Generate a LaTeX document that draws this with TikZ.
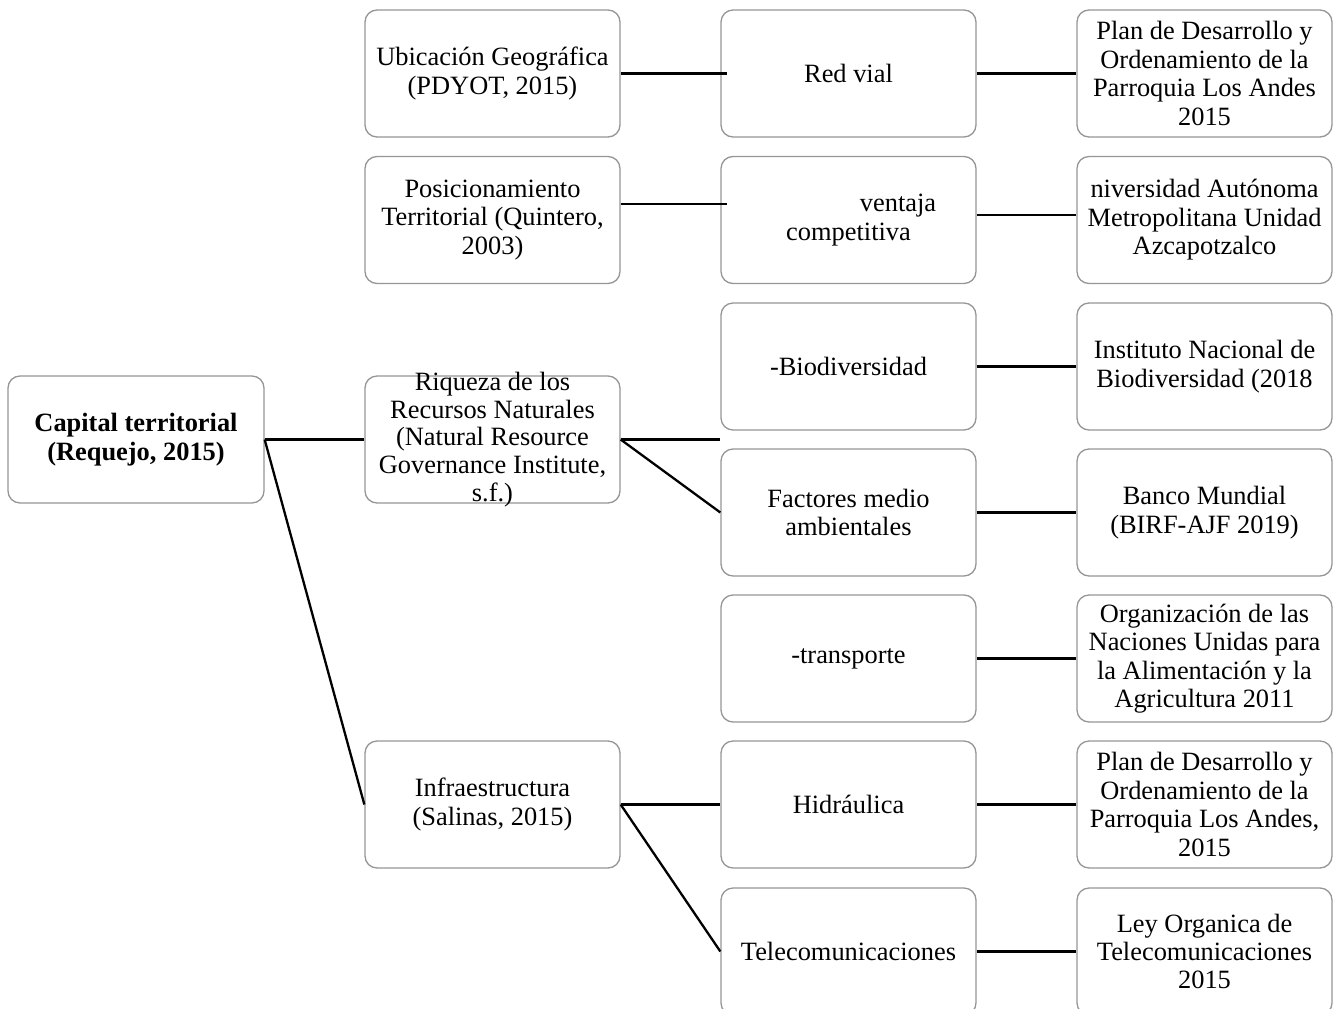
\documentclass[tikz,border=0pt]{standalone}
\usepackage{fontspec}
\setmainfont{Liberation Serif}
\definecolor{boxgray}{RGB}{150,150,150}
\begin{document}
\begin{tikzpicture}[x=1pt,y=-1pt,
  txt/.style={inner sep=0pt, align=center, font=\fontsize{26.4}{28.4}\selectfont},
  box/.style={txt, draw=boxgray, line width=1.3pt, rounded corners=12pt, fill=white,
    minimum width=255pt, minimum height=127pt},
  conn/.style={draw=black, line width=2.3pt}]
\useasboundingbox (0,0) rectangle (1339,1009);
% column 1
\node[box, minimum width=256pt] (cap) at (136,439.5) {\textbf{Capital territorial}\\\textbf{(Requejo, 2015)}};
% column 2
\node[box] (ubi) at (492.5,73.5) {Ubicación Geográfica\\(PDYOT, 2015)};
\node[box] (pos) at (492.5,220) {Posicionamiento\\Territorial (Quintero,\\2003)};
\node[box] (riq) at (492.5,439.5) {};
\node[txt, font=\fontsize{26.4}{27.7}\selectfont] (riqt) at (riq.center) {Riqueza de los\\Recursos Naturales\\(Natural Resource\\Governance Institute,\\s.f.)};
\node[box] (inf) at (492.5,804.5) {Infraestructura\\(Salinas, 2015)};
% column 3
\node[box] (red) at (848.5,73.5) {Red vial};
\node[box] (ven) at (848.5,220) {\hspace*{99pt}ventaja\\competitiva};
\node[box] (bio) at (848.5,366.5) {-Biodiversidad};
\node[box] (fac) at (848.5,512.5) {Factores medio\\ambientales};
\node[box] (tra) at (848.5,658.5) {-transporte};
\node[box] (hid) at (848.5,804.5) {Hidráulica};
\node[box] (tel) at (848.5,951.5) {Telecomunicaciones};
% column 4
\node[box] (plan1) at (1204.5,73.5) {Plan de Desarrollo y\\Ordenamiento de la\\Parroquia Los Andes\\2015};
\node[box] (univ) at (1204.5,220) {niversidad Autónoma\\Metropolitana Unidad\\Azcapotzalco};
\node[box] (inst) at (1204.5,366.5) {Instituto Nacional de\\Biodiversidad (2018};
\node[box] (banco) at (1204.5,512.5) {Banco Mundial\\(BIRF-AJF 2019)};
\node[box] (org) at (1204.5,658.5) {Organización de las\\Naciones Unidas para\\la Alimentación y la\\Agricultura 2011};
\node[box] (plan2) at (1204.5,804.5) {Plan de Desarrollo y\\Ordenamiento de la\\Parroquia Los Andes,\\2015};
\node[box] (ley) at (1204.5,951.5) {Ley Organica de\\Telecomunicaciones\\2015};
% connectors
\draw[conn] (cap.east) -- (riq.west);
\draw[conn] (cap.east) -- (inf.west);
\draw[conn] (ubi.east) -- ([xshift=7pt]red.west);
\draw[conn] ([yshift=16pt]pos.east) -- ([xshift=7pt,yshift=16pt]ven.west);
\coordinate (rj) at (riq.east -| bio.west);
\draw[conn] (riq.east) -- (rj);
\draw[conn] (riq.east) -- (fac.west);
\draw[conn] (inf.east) -- (hid.west);
\draw[conn] (inf.east) -- (tel.west);
\draw[conn] (red.east) -- (plan1.west);
\draw[conn] ([yshift=5pt]ven.east) -- ([yshift=5pt]univ.west);
\draw[conn] (bio.east) -- (inst.west);
\draw[conn] (fac.east) -- (banco.west);
\draw[conn] (tra.east) -- (org.west);
\draw[conn] (hid.east) -- (plan2.west);
\draw[conn] (tel.east) -- (ley.west);
\end{tikzpicture}
\end{document}
